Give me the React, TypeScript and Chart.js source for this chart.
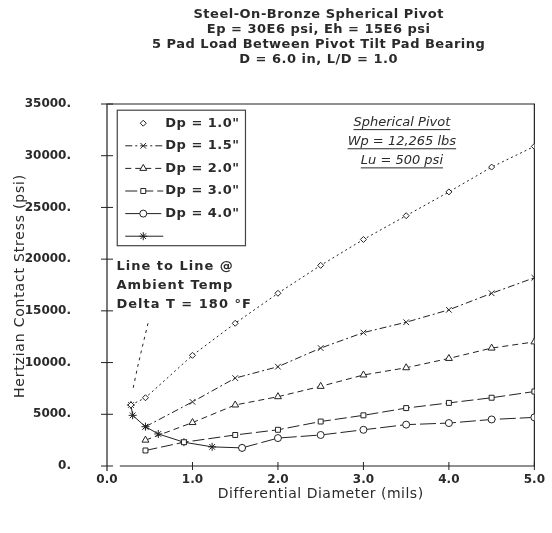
import React, { useEffect, useRef } from "react";
import { Chart, registerables } from "chart.js";
import { drawPoint } from "chart.js/helpers";

Chart.register(...registerables);

// ---------------- data ----------------
const titleLines = [
  "Steel-On-Bronze Spherical Pivot",
  "Ep = 30E6 psi, Eh = 15E6 psi",
  "5 Pad Load Between Pivot Tilt Pad Bearing",
  "D = 6.0 in, L/D = 1.0",
];
const boxLines = ["Spherical Pivot", "Wp = 12,265 lbs", "Lu = 500 psi"];
const noteLines = ["Line to Line @", "Ambient Temp", "Delta T = 180 °F"];
const xAxisTitle = "Differential Diameter (mils)";
const yAxisTitle = "Hertzian Contact Stress (psi)";

const xTickValues = [0, 1, 2, 3, 4, 5];
const xTickLabels = ["0.0", "1.0", "2.0", "3.0", "4.0", "5.0"];
const yTickValues = [0, 5000, 10000, 15000, 20000, 25000, 30000, 35000];
const yTickLabels = ["0.", "5000.", "10000.", "15000.", "20000.", "25000.", "30000.", "35000."];

const seriesNames = ['Dp = 1.0"', 'Dp = 1.5"', 'Dp = 2.0"', 'Dp = 3.0"', 'Dp = 4.0"', ""];

const dp10X = [0.28, 0.45, 1.0, 1.5, 2.0, 2.5, 3.0, 3.5, 4.0, 4.5, 5.0];
const dp10Y = [5900, 6600, 10700, 13800, 16700, 19400, 21900, 24200, 26500, 28900, 30900];

const dp15X = [0.45, 1.0, 1.5, 2.0, 2.5, 3.0, 3.5, 4.0, 4.5, 5.0];
const dp15Y = [3800, 6200, 8500, 9600, 11400, 12900, 13900, 15100, 16700, 18200];

const dp20X = [0.45, 1.0, 1.5, 2.0, 2.5, 3.0, 3.5, 4.0, 4.5, 5.0];
const dp20Y = [2500, 4200, 5900, 6700, 7700, 8800, 9500, 10400, 11400, 12000];

const dp30X = [0.45, 0.9, 1.5, 2.0, 2.5, 3.0, 3.5, 4.0, 4.5, 5.0];
const dp30Y = [1500, 2300, 3000, 3500, 4300, 4900, 5600, 6100, 6600, 7200];

const dp40X = [1.58, 2.0, 2.5, 3.0, 3.5, 4.0, 4.5, 5.0];
const dp40Y = [1750, 2700, 3000, 3500, 4000, 4150, 4500, 4700];

const lineToLineX = [0.28, 0.3, 0.45, 0.6, 0.9, 1.23, 1.58];
const lineToLineY = [5900, 4900, 3800, 3100, 2300, 1850, 1750];

const leaderX = [0.48, 0.37, 0.3];
const leaderY = [13800, 10000, 7300];

// ---------------- styling ----------------
const INK = "#222";
const TXT = "#2a2a2a";
const FONT = "DejaVu Sans";

const pts = (xs: number[], ys: number[]) => xs.map((x, i) => ({ x, y: ys[i] }));

function makeDataset(label: string, xs: number[], ys: number[], dash: number[], style: string, radius: number, legendLine = true) {
  return {
    label,
    data: pts(xs, ys),
    borderColor: INK,
    backgroundColor: "#fff",
    borderWidth: 1,
    borderDash: dash,
    pointStyle: style,
    pointRadius: radius,
    pointBorderColor: INK,
    pointBackgroundColor: "#fff",
    pointBorderWidth: 1,
    tension: 0,
    fill: false,
    legendLine,
    inLegend: true,
  };
}

function spaced(ctx: any, px: number) {
  try {
    ctx.letterSpacing = px + "px";
  } catch (e) {
    /* ignore */
  }
}

const decorPlugin = {
  id: "decor",
  beforeDatasetsDraw(chart: any) {
    const { ctx, chartArea: a, scales } = chart;
    const xs = scales.x;
    const ys = scales.y;
    ctx.save();
    ctx.strokeStyle = INK;
    ctx.lineWidth = 1.2;
    ctx.setLineDash([]);
    ctx.beginPath();
    ctx.moveTo(a.left, a.bottom + 5);
    ctx.lineTo(a.left, a.top);
    ctx.lineTo(a.right, a.top);
    ctx.lineTo(a.right, a.bottom);
    ctx.lineTo(xs.getPixelForValue(0.15), a.bottom);
    ctx.stroke();
    ctx.lineWidth = 1;
    ctx.beginPath();
    yTickValues.forEach((v) => {
      const y = ys.getPixelForValue(v);
      ctx.moveTo(a.left - 6, y);
      ctx.lineTo(a.left + 6, y);
    });
    xTickValues.forEach((v) => {
      if (v === 0) return;
      const x = xs.getPixelForValue(v);
      ctx.moveTo(x, a.bottom - 4);
      ctx.lineTo(x, a.bottom + 4);
    });
    ctx.stroke();
    ctx.restore();
  },
  afterDraw(chart: any) {
    const { ctx, chartArea: a, scales } = chart;
    const xs = scales.x;
    const ys = scales.y;
    ctx.save();
    ctx.fillStyle = TXT;
    ctx.textBaseline = "middle";

    // title
    ctx.textAlign = "center";
    ctx.font = `bold 13px ${FONT}`;
    spaced(ctx, 0.5);
    const cx = (a.left + a.right) / 2 - 2;
    titleLines.forEach((t, i) => ctx.fillText(t, cx, 15 + i * 15));

    // axis titles
    ctx.font = `14px ${FONT}`;
    spaced(ctx, 0.5);
    ctx.fillText(xAxisTitle, cx + 2, 494);
    ctx.save();
    ctx.translate(20, 286);
    ctx.rotate(-Math.PI / 2);
    spaced(ctx, 0.8);
    ctx.fillText(yAxisTitle, 0, 0);
    ctx.restore();

    // box text (underlined italic)
    ctx.font = `italic 13px ${FONT}`;
    spaced(ctx, 0);
    ctx.strokeStyle = TXT;
    ctx.lineWidth = 1;
    const bx = xs.getPixelForValue(3.45);
    boxLines.forEach((t, i) => {
      const y = ys.getPixelForValue(33200 - i * 1850);
      ctx.fillText(t, bx, y);
      const w = ctx.measureText(t).width;
      ctx.beginPath();
      ctx.moveTo(bx - w / 2, y + 7);
      ctx.lineTo(bx + w / 2, y + 7);
      ctx.stroke();
    });

    // note
    ctx.textAlign = "left";
    ctx.font = `bold 13px ${FONT}`;
    spaced(ctx, 1);
    const nx = xs.getPixelForValue(0.11);
    noteLines.forEach((t, i) => {
      ctx.fillText(t, nx, ys.getPixelForValue(19300 - i * 1850));
    });

    // legend
    const lx0 = xs.getPixelForValue(0.12);
    const lx1 = xs.getPixelForValue(1.62);
    const ly0 = ys.getPixelForValue(34400);
    const ly1 = ys.getPixelForValue(21300);
    ctx.strokeStyle = "#444";
    ctx.lineWidth = 1.2;
    ctx.strokeRect(lx0, ly0, lx1 - lx0, ly1 - ly0);
    ctx.font = `bold 13px ${FONT}`;
    spaced(ctx, 0.5);
    const items = chart.data.datasets.filter((d: any) => d.inLegend);
    items.forEach((d: any, i: number) => {
      const y = ly0 + 13 + i * 22.6;
      const sx0 = lx0 + 8;
      const sx1 = lx0 + 46;
      const mx = (sx0 + sx1) / 2 - 1;
      ctx.strokeStyle = INK;
      ctx.lineWidth = 1;
      if (d.legendLine) {
        ctx.setLineDash(d.borderDash);
        ctx.beginPath();
        ctx.moveTo(sx0, y);
        ctx.lineTo(sx1, y);
        ctx.stroke();
        ctx.setLineDash([]);
      }
      ctx.fillStyle = "#fff";
      drawPoint(ctx, { pointStyle: d.pointStyle, radius: d.pointRadius, rotation: 0, borderWidth: 1 }, mx, y);
      ctx.fillStyle = TXT;
      ctx.fillText(d.label, lx0 + 48, y);
    });
    ctx.restore();
  },
};

export default function App() {
  const ref = useRef<HTMLCanvasElement | null>(null);
  useEffect(() => {
    if (!ref.current) return;
    const datasets: any[] = [
      makeDataset(seriesNames[0], dp10X, dp10Y, [2, 3], "rectRot", 3, false),
      makeDataset(seriesNames[1], dp15X, dp15Y, [7, 3, 2, 3], "crossRot", 4),
      makeDataset(seriesNames[2], dp20X, dp20Y, [6, 4], "triangle", 4),
      makeDataset(seriesNames[3], dp30X, dp30Y, [12, 4], "rect", 3.5),
      makeDataset(seriesNames[4], dp40X, dp40Y, [16, 4], "circle", 3.5),
      makeDataset(seriesNames[5], lineToLineX, lineToLineY, [], "star", 4),
      {
        label: "leader",
        data: pts(leaderX, leaderY),
        borderColor: INK,
        borderWidth: 1,
        borderDash: [3, 4],
        pointRadius: 0,
        tension: 0.3,
        fill: false,
        inLegend: false,
      },
    ];
    const chart = new Chart(ref.current, {
      type: "line",
      data: { datasets },
      options: {
        responsive: false,
        animation: false,
        devicePixelRatio: 1,
        layout: { padding: { top: 104, right: 12, left: 0, bottom: 0 } },
        plugins: {
          legend: { display: false },
          title: { display: false },
          tooltip: { enabled: false },
        },
        scales: {
          x: {
            type: "linear",
            min: 0,
            max: 5,
            afterFit: (s: any) => {
              s.height = 67;
            },
            afterBuildTicks: (s: any) => {
              s.ticks = xTickValues.map((v) => ({ value: v }));
            },
            grid: { display: false, drawTicks: false },
            border: { display: false },
            ticks: {
              padding: 7,
              color: TXT,
              font: { family: FONT, size: 12, weight: "bold" },
              callback: (v: any) => xTickLabels[xTickValues.indexOf(Number(v))] ?? "",
              maxRotation: 0,
            },
          },
          y: {
            type: "linear",
            min: 0,
            max: 35000,
            afterFit: (s: any) => {
              s.width = 107;
            },
            afterBuildTicks: (s: any) => {
              s.ticks = yTickValues.map((v) => ({ value: v }));
            },
            grid: { display: false, drawTicks: false },
            border: { display: false },
            ticks: {
              padding: 36,
              color: TXT,
              font: { family: FONT, size: 12, weight: "bold" },
              callback: (v: any) => yTickLabels[yTickValues.indexOf(Number(v))] ?? "",
            },
          },
        },
      } as any,
      plugins: [decorPlugin],
    });
    return () => chart.destroy();
  }, []);
  return (
    <div style={{ position: "fixed", left: 0, top: 0, width: 552, height: 533, background: "#fff" }}>
      <canvas ref={ref} width={552} height={533} style={{ width: 552, height: 533, display: "block" }} />
    </div>
  );
}
